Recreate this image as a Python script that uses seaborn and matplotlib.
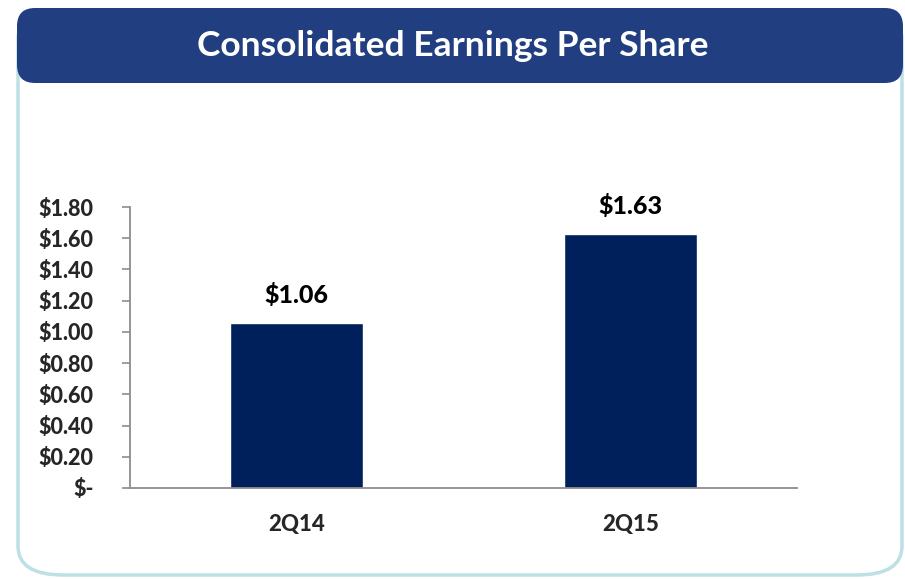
import matplotlib
matplotlib.use("Agg")
import matplotlib.pyplot as plt
import seaborn as sns
import pandas as pd
from matplotlib.patches import FancyBboxPatch

# Dados do gráfico
categorias = ["2Q14", "2Q15"]
valores = [1.06, 1.63]
y_ticks = [0.0, 0.2, 0.4, 0.6, 0.8, 1.0, 1.2, 1.4, 1.6, 1.8]
y_labels = ["$-", "$0.20", "$0.40", "$0.60", "$0.80", "$1.00", "$1.20", "$1.40", "$1.60", "$1.80"]
titulo = "Consolidated Earnings Per Share"

sns.set_style("white")
plt.rcParams['font.family'] = ['Lato', 'DejaVu Sans']
plt.rcParams['font.weight'] = 'bold'

W, H = 905, 579
fig = plt.figure(figsize=(W / 100, H / 100), dpi=100)


def px_box(x0, y0, x1, y1):
    # converte pixels (origem no topo) para coordenadas da figura
    return x0 / W, 1 - y1 / H, (x1 - x0) / W, (y1 - y0) / H


# moldura exterior clara
fx, fy, fw, fh = px_box(18, 10, 902, 575)
moldura = FancyBboxPatch((fx, fy), fw, fh, boxstyle="round,pad=0,rounding_size=0.05",
                         transform=fig.transFigure, facecolor="white",
                         edgecolor="#BCE0E3", linewidth=2.5, zorder=-3)
fig.patches.append(moldura)

# faixa do título
hx, hy, hw, hh = px_box(17, 8, 903, 83)
faixa = FancyBboxPatch((hx, hy), hw, hh, boxstyle="round,pad=0,rounding_size=0.02",
                       transform=fig.transFigure, facecolor="#213F80",
                       edgecolor="none", zorder=-2, mutation_aspect=W / H)
fig.patches.append(faixa)
fig.text(0.5, 1 - 46 / H, titulo, ha="center", va="center", color="white",
         fontsize=25.5, fontweight="bold", zorder=2)

ax = fig.add_axes(px_box(130, 207, 797, 488))
ax.patch.set_alpha(0)

df = pd.DataFrame({"Trimestre": categorias, "EPS": valores})
sns.barplot(data=df, x="Trimestre", y="EPS", color="#00205B", width=0.4,
            saturation=1, ax=ax)

for i, v in enumerate(valores):
    ax.text(i, v + 0.1, f"${v:.2f}", ha="center", va="bottom",
            fontsize=18, fontweight=900, color="black")

ax.set_ylim(0, 1.8)
ax.set_xlim(-0.5, 1.5)
ax.set_yticks(y_ticks)
ax.set_yticklabels(y_labels)
ax.set_xticks([0, 1])
ax.set_xticklabels(categorias)
ax.set_xticks([-0.5, 0.5, 1.5], minor=True)
ax.tick_params(axis="x", which="major", length=0, pad=19)
ax.tick_params(axis="x", which="minor", length=6, color="#8C8C8C", width=1.2, direction="out")
ax.tick_params(axis="y", length=6, color="#8C8C8C", width=1.2, direction="out", pad=20, left=True)
for lbl in ax.get_yticklabels():
    lbl.set_fontsize(15.5)
    lbl.set_fontweight(900)
for lbl in ax.get_xticklabels():
    lbl.set_fontsize(16)
    lbl.set_fontweight(900)
ax.set_xlabel("")
ax.set_ylabel("")

sns.despine(ax=ax, top=True, right=True)
for s in ["left", "bottom"]:
    ax.spines[s].set_color("#8C8C8C")
    ax.spines[s].set_linewidth(1.3)

fig.savefig("out.png", dpi=100)
plt.close(fig)
